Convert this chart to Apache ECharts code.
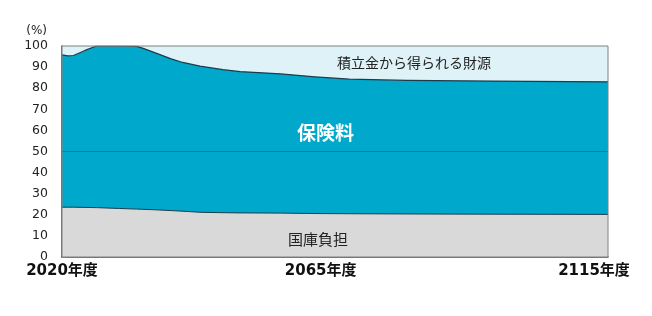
<!DOCTYPE html>
<html>
<head>
<meta charset="utf-8">
<script src="https://cdn.jsdelivr.net/npm/echarts@6/dist/echarts.min.js"></script>
<style>html,body{margin:0;padding:0;background:#fff}#c{width:652px;height:316px}</style>
</head>
<body>
<div id="c"></div>
<script>
// Years (fiscal year) at which boundaries were read
var years = [2020, 2021, 2022, 2024, 2026, 2030, 2033, 2034, 2036, 2039, 2041, 2044, 2048, 2051, 2058, 2064, 2070, 2080, 2095, 2115];
// Upper edge of 国庫負担 band (%)
var kokkoTop = [23.6, 23.6, 23.6, 23.5, 23.4, 23.0, 22.7, 22.6, 22.4, 22.0, 21.7, 21.2, 21.0, 20.9, 20.8, 20.6, 20.5, 20.4, 20.3, 20.2];
// Upper edge of 保険料 band (国庫負担 + 保険料, %)
var hokenryoTop = [95.8, 95.3, 95.5, 97.9, 100, 100, 99.8, 99.0, 97.0, 93.9, 92.2, 90.5, 88.8, 87.9, 86.8, 85.4, 84.3, 83.7, 83.4, 83.0];
// Upper edge of 積立金 band (total, %)
var totalTop = [100, 100, 100, 100, 100, 100, 100, 100, 100, 100, 100, 100, 100, 100, 100, 100, 100, 100, 100, 100];
var xLabelYears = [2020, 2065, 2115];
var seriesNames = ['国庫負担', '保険料', '積立金から得られる財源'];

function pairs(arr) { return years.map(function (y, i) { return [y, arr[i]]; }); }

var font = '"DejaVu Sans", "Noto Sans CJK JP", sans-serif';
var chart = echarts.init(document.getElementById('c'));
chart.setOption({
  animation: false,
  grid: { left: 62, right: 44, top: 46, bottom: 59, show: true, borderColor: '#808080', borderWidth: 1, z: 10 },
  xAxis: {
    type: 'value', min: 2020, max: 2115, interval: 5,
    axisLine: { show: true, lineStyle: { color: '#404040', width: 1.5 } },
    axisTick: { show: false },
    splitLine: { show: false },
    axisLabel: {
      margin: 7,
      fontFamily: font, fontSize: 15, fontWeight: 'bold', color: '#111',
      formatter: function (v) {
        if (xLabelYears.indexOf(v) < 0) return '';
        if (v === 2115) return '{r|' + v + '年度}';
        return v + '年度';
      },
      rich: { r: { fontFamily: font, fontSize: 15, fontWeight: 'bold', color: '#111', padding: [0, 28, 0, 0] } }
    }
  },
  yAxis: {
    type: 'value', min: 0, max: 100, interval: 10,
    name: '(%)', nameLocation: 'end', nameGap: 9,
    nameTextStyle: { fontFamily: font, fontSize: 12, color: '#222', align: 'right', padding: [0, 15, 0, 0] },
    axisLine: { show: true, lineStyle: { color: '#404040', width: 1.5 } },
    axisTick: { show: true, inside: true, length: 3, lineStyle: { color: '#888' } },
    splitLine: { show: false },
    axisLabel: { fontFamily: font, fontSize: 12.5, color: '#222', margin: 14 }
  },
  series: [
    {
      name: seriesNames[2], type: 'line', data: pairs(totalTop),
      symbol: 'none',
      lineStyle: { width: 0 },
      areaStyle: { color: '#def2f8', opacity: 1 }
    },
    {
      name: seriesNames[1], type: 'line', data: pairs(hokenryoTop),
      smooth: false, symbol: 'none',
      lineStyle: { color: '#1c3c4c', width: 1.2, join: 'round' },
      areaStyle: { color: '#00a8cb', opacity: 1 }
    },
    {
      name: seriesNames[0], type: 'line', data: pairs(kokkoTop),
      smooth: false, symbol: 'none',
      lineStyle: { color: '#1c3c4c', width: 1, join: 'round' },
      areaStyle: { color: '#d9d9d9', opacity: 1 },
      markLine: {
        silent: true, symbol: 'none', label: { show: false },
        lineStyle: { color: '#0b7d96', width: 1, type: 'solid' },
        data: [{ yAxis: 50 }]
      }
    }
  ],
  graphic: [
    { type: 'text', left: 337, top: 57, z: 20, style: { text: seriesNames[2], fontFamily: font, fontSize: 14, fill: '#222' } },
    { type: 'text', left: 297, top: 126, z: 20, style: { text: seriesNames[1], fontFamily: font, fontSize: 19, fontWeight: 'bold', fill: '#fff' } },
    { type: 'text', left: 288, top: 234, z: 20, style: { text: seriesNames[0], fontFamily: font, fontSize: 15, fill: '#222' } }
  ]
});
</script>
</body>
</html>
